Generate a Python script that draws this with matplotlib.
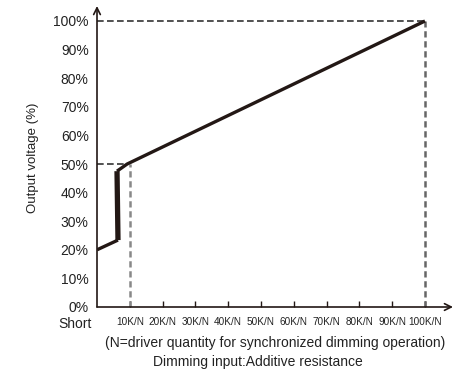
import matplotlib
matplotlib.use('Agg')
import matplotlib.pyplot as plt
import matplotlib.transforms as mtransforms

# 資料
dim_k = [0, 6.4, 6.1, 9.2, 100]          # K/N
out_pct = [20, 23.4, 47.5, 50, 100]       # %
x_ticks = [0, 10, 20, 30, 40, 50, 60, 70, 80, 90, 100]
x_labels = ['Short', '10K/N', '20K/N', '30K/N', '40K/N', '50K/N',
            '60K/N', '70K/N', '80K/N', '90K/N', '100K/N']
y_ticks = [0, 10, 20, 30, 40, 50, 60, 70, 80, 90, 100]
y_labels = ['0%', '10%', '20%', '30%', '40%', '50%', '60%', '70%', '80%', '90%', '100%']

plt.rcParams['font.family'] = ['Liberation Sans', 'DejaVu Sans']

fig = plt.figure(figsize=(4.67, 3.70), dpi=100)
W, H = 467, 370
ax = fig.add_axes([97 / W, (H - 307) / H, (453 - 97) / W, (307 - 6) / H])
ax.set_xlim(0, (453 - 97) / 3.28)
ax.set_ylim(0, (307 - 6) / 2.86)
for s in ax.spines.values():
    s.set_visible(False)

ink = '#231815'
txt = '#222222'
# 軸線 (arrow)
ax.annotate('', xy=(ax.get_xlim()[1], 0), xytext=(0, 0),
            arrowprops=dict(arrowstyle='->', color=ink, lw=1.2, mutation_scale=12, shrinkA=0, shrinkB=0),
            annotation_clip=False)
ax.annotate('', xy=(0, ax.get_ylim()[1]), xytext=(0, 0),
            arrowprops=dict(arrowstyle='->', color=ink, lw=1.2, mutation_scale=12, shrinkA=0, shrinkB=0),
            annotation_clip=False)

# 虛線
ax.plot([0, 100], [100, 100], color='#333333', lw=1.2, dashes=(4, 2))
ax.plot([100, 100], [0, 100], color='#666666', lw=1.8, dashes=(2.5, 1.5))
ax.plot([0, dim_k[3]], [50, 50], color='#333333', lw=1.2, dashes=(4, 2))
ax.plot([10, 10], [0, 50], color='#888888', lw=1.8, dashes=(2.5, 1.5))

# 曲線
ax.plot(dim_k[:2], out_pct[:2], color=ink, lw=2.4, solid_capstyle='butt')
ax.plot(dim_k[1:3], out_pct[1:3], color=ink, lw=3.8, solid_capstyle='butt')
ax.plot(dim_k[2:], out_pct[2:], color=ink, lw=2.4, solid_joinstyle='miter', solid_capstyle='butt')

# 刻度
ax.set_xticks(x_ticks)
ax.set_xticklabels(x_labels, fontsize=7.2, color=txt)
ax.tick_params(axis='x', direction='in', length=4, width=1, color=ink, pad=7)
ax.xaxis.get_ticklines()[0].set_visible(False)
short = ax.get_xticklabels()[0]
short.set_fontsize(10)
short.set_horizontalalignment('right')
short.set_transform(short.get_transform() + mtransforms.ScaledTranslation(-5 / 100, 0, fig.dpi_scale_trans))

ax.set_yticks(y_ticks)
ax.set_yticklabels(y_labels, fontsize=10, color=txt)
ax.tick_params(axis='y', length=0, pad=6)

fig.text(33 / W, 1 - 158 / H, 'Output voltage (%)', rotation=90, fontsize=9.5,
         ha='center', va='center', color=txt)
fig.text(275 / W, 1 - 343 / H, '(N=driver quantity for synchronized dimming operation)',
         fontsize=10, ha='center', va='center', color=txt)
fig.text(258 / W, 1 - 362 / H, 'Dimming input:Additive resistance',
         fontsize=10, ha='center', va='center', color=txt)

fig.savefig('out.png', dpi=100)
